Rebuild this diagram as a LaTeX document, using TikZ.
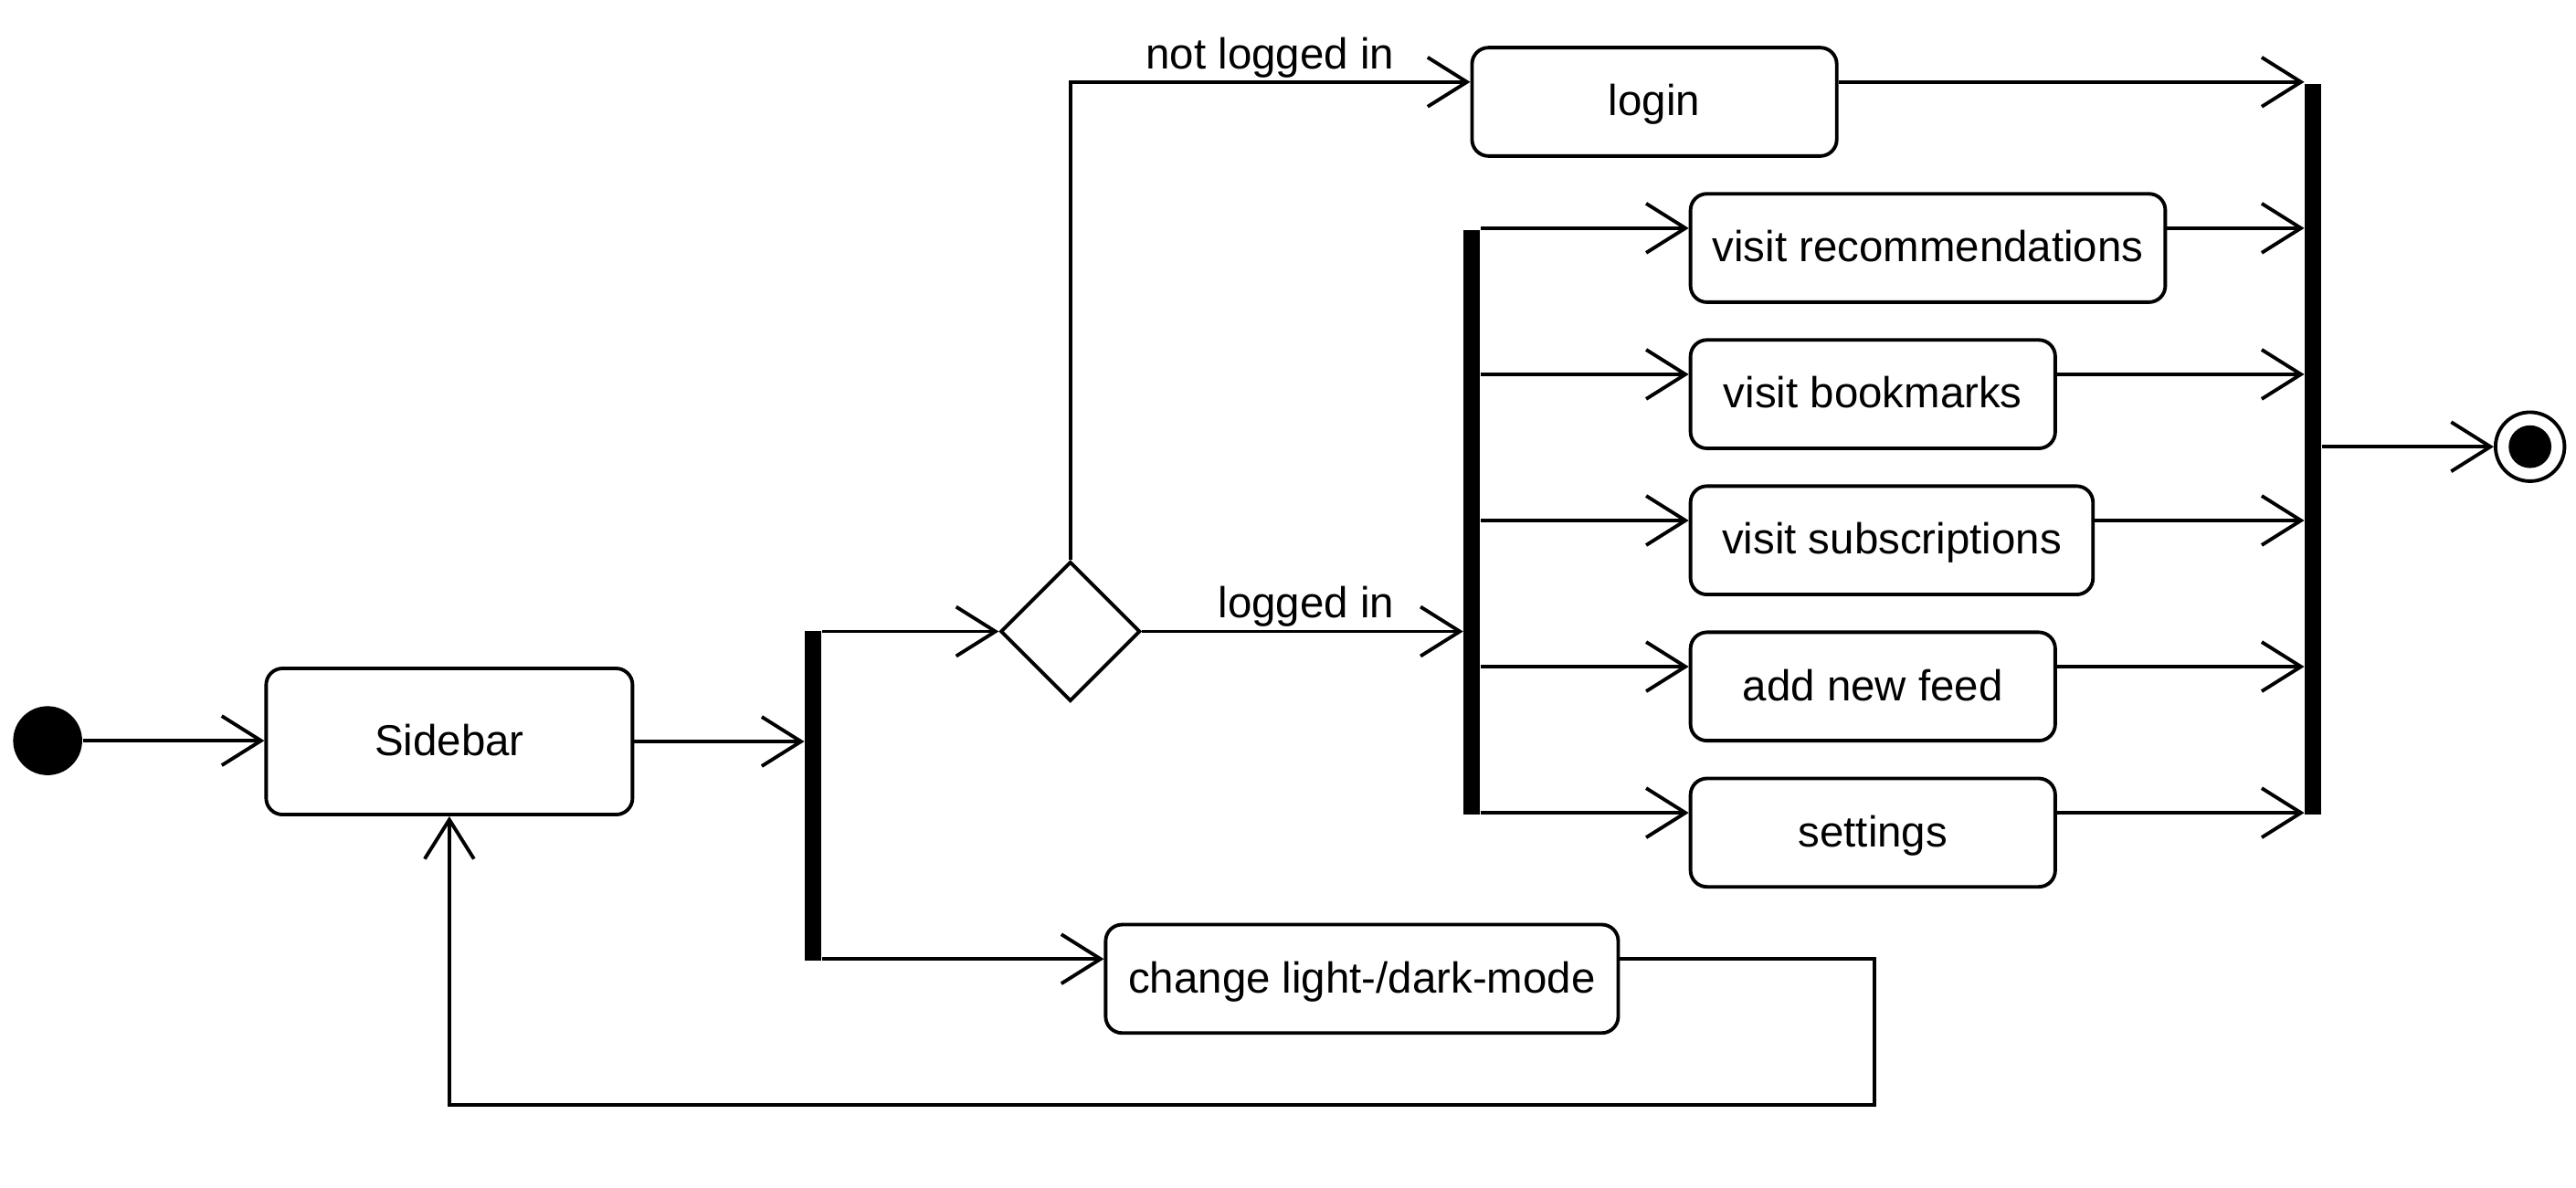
\documentclass[tikz,border=0pt]{standalone}
\usepackage{fontspec}
\setmainfont{Liberation Sans}
\usetikzlibrary{arrows.meta,shapes.geometric,calc}
\def\un{0.017985cm}
\begin{document}
\begin{tikzpicture}[x=\un,y=-\un,
  every node/.style={font=\fontsize{13.5}{16}\selectfont},
  box/.style={draw,line width=1.1pt,rounded corners=10*\un,inner sep=0pt,
    text height=0.87em,text depth=0pt},
  forkbar/.style={fill=black,draw=none,inner sep=0pt,minimum width=10*\un},
  arr/.style={line width=1.1pt,-{Straight Barb[length=4.3mm,width=5.4mm]}},
  lbl/.style={inner sep=0pt,anchor=base east}]
\useasboundingbox (0,0) rectangle (1568,723);
% nodes
\node[fill=black,circle,inner sep=0pt,minimum size=42*\un] (init) at (29,451) {};
\node[box,minimum width=223*\un,minimum height=89*\un] (sidebar) at (273.5,451.5) {Sidebar};
\node[forkbar,minimum height=201*\un] (f1) at (495,484.5) {};
\node[diamond,draw,line width=1.1pt,inner sep=0pt,minimum width=85*\un,minimum height=85*\un] (dec) at (651.5,384.5) {};
\node[box,minimum width=222*\un,minimum height=66*\un] (login) at (1007,62) {login};
\node[forkbar,minimum height=356*\un] (f2) at (896,318) {};
\node[box,minimum width=289*\un,minimum height=66*\un] (vr) at (1173.5,151) {visit recommendations};
\node[box,minimum width=222*\un,minimum height=66*\un] (vb) at (1140,240) {visit bookmarks};
\node[box,minimum width=245*\un,minimum height=66*\un] (vs) at (1151.5,329) {visit subscriptions};
\node[box,minimum width=222*\un,minimum height=66*\un] (af) at (1140,418) {add new feed};
\node[box,minimum width=222*\un,minimum height=66*\un] (st) at (1140,507) {settings};
\node[box,minimum width=312*\un,minimum height=66*\un] (cm) at (829,596) {change light-/dark-mode};
\node[forkbar,minimum height=445*\un] (f3) at (1408,273.5) {};
\node[draw,circle,line width=1.1pt,inner sep=0pt,minimum size=42*\un] (final) at (1540,272) {};
\node[fill=black,circle,inner sep=0pt,minimum size=26*\un] (finalin) at (1540,272) {};
% labels
\node[lbl] (lnot) at (849,42) {not logged in};
\node[lbl] (lin) at (849,376) {logged in};
% entry coordinates
\foreach \b in {login,vr,vb,vs,af,st,cm}{
  \coordinate (\b-in) at ($(\b.north west)+(0,22)$);
  \coordinate (\b-out) at ($(\b.north east)+(0,22)$);
}
\coordinate (loopc) at (1141,673);
% connectors
\draw[arr] (init.east) -- (init.east -| sidebar.west);
\draw[arr] (sidebar.east) -- (sidebar.east -| f1.west);
\draw[arr] (dec.west -| f1.east) -- (dec.west);
\draw[arr] (cm-in -| f1.east) -- (cm-in);
\draw[arr] (dec.north) |- (login-in);
\draw[arr] (dec.east) -- (dec.east -| f2.west);
\foreach \b in {vr,vb,vs,af,st}{
  \draw[arr] (f2.east |- \b-in) -- (\b-in);
  \draw[arr] (\b-out) -- (f3.west |- \b-out);
}
\draw[arr] (login-out) -- (f3.west |- login-out);
\draw[arr] (f3.east |- final) -- (final.west);
\draw[arr] (cm-out) -| (loopc) -| (sidebar.south);
\end{tikzpicture}
\end{document}
